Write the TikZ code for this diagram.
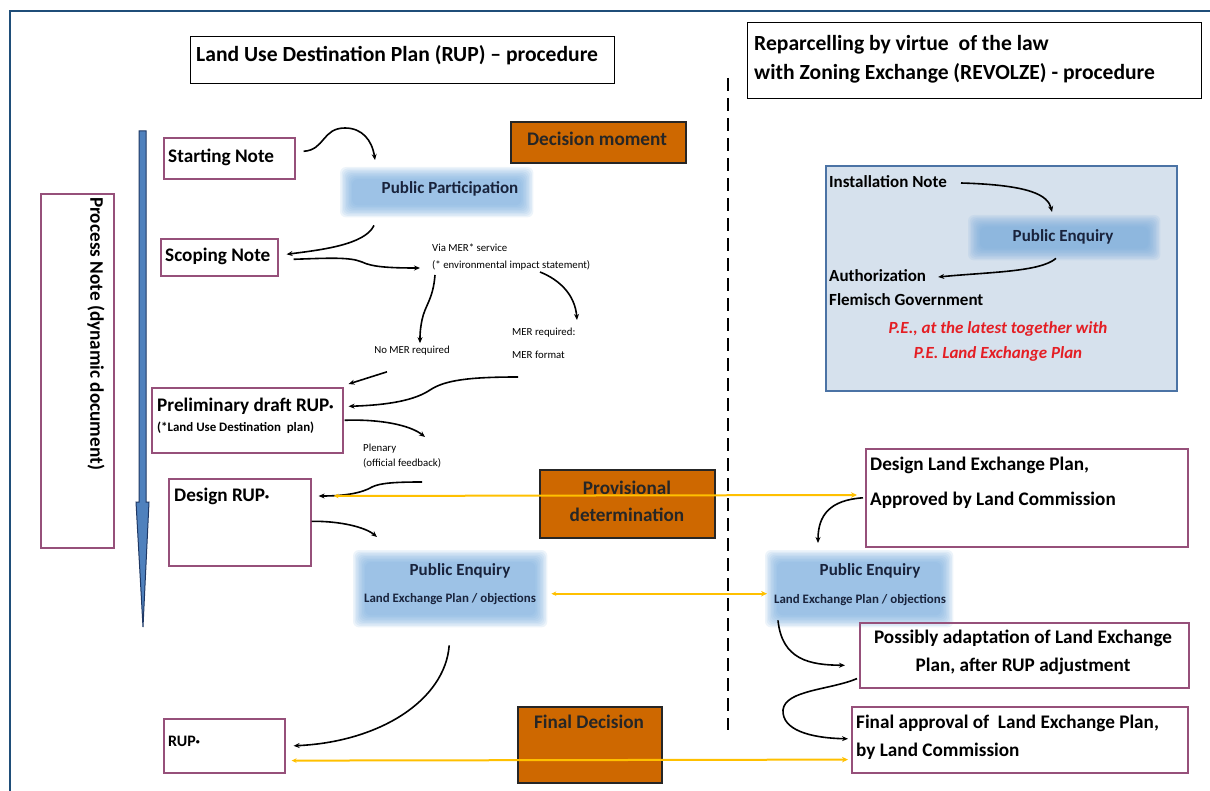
\documentclass[tikz,border=0pt]{standalone}
\usepackage{fontspec}
\setmainfont{Carlito}
\usetikzlibrary{arrows.meta,calc}
\pgfdeclarelayer{bg}\pgfdeclarelayer{blur}\pgfsetlayers{bg,blur,main}
\definecolor{framec}{RGB}{31,78,121}
\definecolor{boxm}{RGB}{150,80,122}
\definecolor{orangec}{RGB}{206,104,0}
\definecolor{yel}{RGB}{255,192,0}
\definecolor{greyb}{RGB}{214,225,237}
\definecolor{greyd}{RGB}{75,115,165}
\definecolor{blobc}{RGB}{117,170,220}
\definecolor{navy}{RGB}{25,35,60}
\definecolor{redt}{RGB}{228,30,36}
\definecolor{arrowf}{RGB}{79,129,189}
\definecolor{arrowd}{RGB}{31,56,100}
\newcommand\ftitle{\fontsize{21.6}{26}\selectfont\bfseries}
\newcommand\fbig{\fontsize{19.2}{23}\selectfont\bfseries}
\newcommand\fgrey{\fontsize{17}{20}\selectfont\bfseries}
\newcommand\fpe{\fontsize{17}{20}\selectfont\bfseries}
\newcommand\fsm{\fontsize{10.8}{12}\selectfont}
\newcommand\fsmb{\fontsize{12.9}{15}\selectfont\bfseries}
\newcommand\rdot{\raisebox{2pt}{\fontsize{8}{8}\selectfont\textbullet}}
\newcommand\blobfill[1]{%
  \begin{pgfonlayer}{blur}
  \foreach \k in {0,...,8}{\fill[blobc,opacity=0.13,rounded corners=6pt]
    ($(#1.north west)+(\k*1.5,\k*1.5)$) rectangle ($(#1.south east)-(\k*1.5,\k*1.5)$);}
  \end{pgfonlayer}}
\tikzset{
  mbox/.style={draw=boxm,line width=1.6pt,inner sep=0,anchor=north west},
  kbox/.style={draw=black,line width=1.3pt,inner sep=0,anchor=north west},
  obox/.style={draw=black!85,fill=orangec,line width=1.6pt,inner sep=0,anchor=north west},
  blobn/.style={inner sep=0,draw=none,anchor=north west},
  lbl/.style={inner sep=0,anchor=west,font=\fbig},
  glbl/.style={inner sep=0,anchor=west,font=\fgrey},
  arr/.style={draw=black,line width=1.6pt,-{Stealth[length=6pt,width=5pt]}},
  yarr/.style={draw=yel,line width=2pt,{Stealth[length=5pt,width=4.5pt]}-{Stealth[length=6pt,width=5.5pt]}},
}
\begin{document}
\begin{tikzpicture}[x=1pt,y=-1pt]
\useasboundingbox (0,0) rectangle (1210,791);
% frame
\draw[framec,line width=2pt] (10,791) -- (10,11) -- (1210,11);
% titles
\node[kbox,minimum width=424pt,minimum height=47pt] (t1) at (190,36) {};
\node[inner sep=0,anchor=west,font=\ftitle] (t1t) at (196,55) {Land Use Destination Plan (RUP) – procedure};
\node[kbox,minimum width=454pt,minimum height=76pt] (t2) at (747,22) {};
\node[inner sep=0,anchor=west,font=\ftitle] (t2a) at (754,45) {Reparcelling by virtue\ \ of the law};
\node[inner sep=0,anchor=west,font=\ftitle] (t2b) at (754,73) {with Zoning Exchange (REVOLZE) - procedure};
% dashed divider
\coordinate (dtop) at (728,78);
\coordinate (dbot) at (728,730);
\draw[black,line width=2pt,dash pattern=on 13pt off 7pt] (dtop) -- (dbot);
% big blue arrow
\draw[fill=arrowf,draw=arrowd,line width=1pt] (139,131) -- (146,131) -- (146,502) -- (149,502) -- (143,627) -- (136,502) -- (139,502) -- cycle;
% process note
\node[mbox,minimum width=73pt,minimum height=354pt] (pn) at (40,193) {};
\node[lbl,rotate=-90] (pnt) at (96,197) {Process Note (dynamic document)};
% starting note
\node[mbox,minimum width=131pt,minimum height=41pt] (sn) at (163,137) {};
\node[lbl] (snt) at (168,157) {Starting Note};
% public participation
\node[blobn,minimum width=193pt,minimum height=50pt] (pp) at (340,167) {};
\blobfill{pp}
\node[inner sep=0,font=\fpe,text=navy] (ppt) at (450,189) {Public Participation};
% decision moment
\node[obox,minimum width=175pt,minimum height=41pt] (dm) at (510,121) {};
\node[inner sep=0,font=\fbig,text=black!85] (dmt) at (597,139) {Decision moment};
% scoping note
\node[mbox,minimum width=117pt,minimum height=37pt] (sc) at (160,238) {};
\node[lbl] (sct) at (165,256) {Scoping Note};
% MER texts
\node[inner sep=0,anchor=west,font=\fsm] (via1) at (432,248) {Via MER* service};
\node[inner sep=0,anchor=west,font=\fsm] (via2) at (432,265) {(* environmental impact statement)};
\node[inner sep=0,font=\fsm] (nomer) at (412,351) {No MER required};
\node[inner sep=0,anchor=west,font=\fsm] (mr1) at (512,333) {MER required:};
\node[inner sep=0,anchor=west,font=\fsm] (mr2) at (512,355) {MER format};
% preliminary draft
\node[mbox,minimum width=191pt,minimum height=65pt] (pr) at (151,387) {};
\node[lbl] (prt) at (157,406) {Preliminary draft RUP\rdot};
\node[inner sep=0,anchor=west,font=\fsmb] (prt2) at (157,428) {(*Land Use Destination\ \ plan)};
\node[inner sep=0,anchor=west,font=\fsm] (pl1) at (363,449) {Plenary};
\node[inner sep=0,anchor=west,font=\fsm] (pl2) at (363,463) {(official feedback)};
% design RUP
\node[mbox,minimum width=142pt,minimum height=87pt] (dr) at (168,478) {};
\node[lbl] (drt) at (174,496) {Design RUP\rdot};
% provisional
\node[obox,minimum width=175pt,minimum height=68pt] (prov) at (539,469) {};
\node[inner sep=0,font=\fontsize{19.2}{27}\selectfont\bfseries,text=black!85,align=center] (provt) at (627,501) {Provisional\\determination};
% public enquiry left
\node[blobn,minimum width=194pt,minimum height=77pt] (pe1) at (353,550) {};
\blobfill{pe1}
\node[inner sep=0,font=\fpe,text=navy] (pe1a) at (460,571) {Public Enquiry};
\node[inner sep=0,font=\fsmb,text=navy] (pe1b) at (450,599) {Land Exchange Plan / objections};
% RUP
\node[mbox,minimum width=121pt,minimum height=54pt] (rup) at (163,718) {};
\node[inner sep=0,anchor=west,font=\fontsize{16}{19}\selectfont\bfseries] (rupt) at (168,741) {RUP\rdot};
% final decision
\node[obox,minimum width=144pt,minimum height=76pt] (fd) at (517,706) {};
\node[inner sep=0,font=\fbig,text=black!85] (fdt) at (589,722) {Final Decision};
% right grey box
\begin{pgfonlayer}{bg}
\node[draw=greyd,fill=greyb,line width=1.6pt,inner sep=0,anchor=north west,minimum width=351pt,minimum height=225pt] (gb) at (825,165) {};
\end{pgfonlayer}
\node[glbl] (inst) at (829,182) {Installation Note};
\node[blobn,minimum width=192pt,minimum height=45pt] (pe0) at (968,215) {};
\blobfill{pe0}
\node[inner sep=0,font=\fpe,text=navy] (pe0t) at (1063,237) {Public Enquiry};
\node[glbl] (auth1) at (829,276) {Authorization};
\node[glbl] (auth2) at (829,300) {Flemisch Government};
\node[inner sep=0,font=\fgrey\itshape,text=redt] (red1) at (998,329) {P.E., at the latest together with};
\node[inner sep=0,font=\fgrey\itshape,text=redt] (red2) at (998,354) {P.E. Land Exchange Plan};
% design land exchange plan
\node[mbox,minimum width=322pt,minimum height=98pt] (dl) at (865,448) {};
\node[lbl] (dlt1) at (870,465) {Design Land Exchange Plan,};
\node[lbl] (dlt2) at (870,500) {Approved by Land Commission};
% public enquiry right
\node[blobn,minimum width=188pt,minimum height=77pt] (pe2) at (765,550) {};
\blobfill{pe2}
\node[inner sep=0,font=\fpe,text=navy] (pe2a) at (870,571) {Public Enquiry};
\node[inner sep=0,font=\fsmb,text=navy] (pe2b) at (860,600) {Land Exchange Plan / objections};
% possibly adaptation
\node[mbox,minimum width=329pt,minimum height=65pt] (pa) at (859,622) {};
\node[inner sep=0,font=\fontsize{19.2}{28}\selectfont\bfseries,align=center] (pat) at (1023,652) {Possibly adaptation of Land Exchange\\Plan, after RUP adjustment};
% final approval
\node[mbox,minimum width=336pt,minimum height=66pt] (fa) at (851,706) {};
\node[lbl] (fat1) at (856,723) {Final approval of\ \ Land Exchange Plan,};
\node[lbl] (fat2) at (856,751) {by Land Commission};
% black connectors
\draw[arr] ($(sn.east)+(8,-7)$) .. controls (325,150) and (322,128) .. (345,128) .. controls (362,128) and (372,140) .. ($(pp.north west)+(35,-7)$);
\draw[arr] ($(pp.south west)+(34,8)$) .. controls (365,245) and (320,250) .. ($(sc.east)+(8,-3)$);
\draw[arr] ($(sc.east)+(15,2)$) .. controls (330,258) and (350,257) .. (362,262) .. controls (372,267) and (390,268) .. ($(via2.west)+(-12,3)$);
\draw[arr] ($(via2.west)+(3,10)$) .. controls (433,300) and (425,305) .. (422,320) .. controls (420,330) and (420,335) .. ($(nomer.north)+(8,-3)$);
\draw[arr] ($(via2.west)+(108,7)$) .. controls (560,280) and (575,295) .. ($(mr1.west)+(65,-13)$);
\draw[arr] ($(nomer.south)+(-25,16)$) -- ($(pr.north east)+(5,-3)$);
\draw[arr] ($(mr2.west)+(6,22)$) .. controls (470,377) and (445,380) .. (430,390) .. controls (415,400) and (390,405) .. ($(pr.east)+(5,-14)$);
\draw[arr] ($(pr.east)+(1,0)$) .. controls (380,419) and (410,425) .. ($(pl1.west)+(62,-12)$);
\draw[arr] ($(pl2.west)+(59,19)$) .. controls (395,482) and (380,483) .. (372,487) .. controls (362,493) and (345,496) .. ($(dr.north east)+(7,18)$);
\draw[arr] ($(dr.east)+(0,-1)$) .. controls (340,521) and (365,527) .. ($(pe1.north west)+(24,-13)$);
\draw[arr] ($(pe1.south)+(-1,18)$) .. controls (445,700) and (380,742) .. ($(rup.east)+(8,0)$);
\draw[arr] ($(inst.east)+(14,1)$) .. controls (1030,185) and (1048,195) .. ($(pe0.north west)+(84,-3)$);
\draw[arr] ($(pe0.south west)+(88,-2)$) .. controls (1040,272) and (990,272) .. ($(auth1.east)+(12,1)$);
\draw[arr] ($(dl.west)+(-2,0)$) .. controls (830,500) and (818,515) .. ($(pe2.north west)+(53,-7)$);
\draw[arr] ($(pe2.south west)+(13,-7)$) .. controls (782,660) and (810,665) .. ($(pa.west)+(-14,10)$);
\draw[arr] ($(pa.south west)+(-2,-10)$) .. controls (830,690) and (785,690) .. (783,710) .. controls (782,730) and (810,738) .. ($(fa.west)+(-3,-1)$);
% yellow connectors
\draw[yarr] ($(dr.north east)+(22,18)$) -- ($(dl.north west)+(-8,47)$);
\draw[yarr] ($(pe1.east)+(4,5)$) -- ($(pe2.west)+(2,5)$);
\draw[yarr] ($(rup.south east)+(6,-13)$) -- ($(fa.south west)+(-3,-14)$);
\end{tikzpicture}
\end{document}
